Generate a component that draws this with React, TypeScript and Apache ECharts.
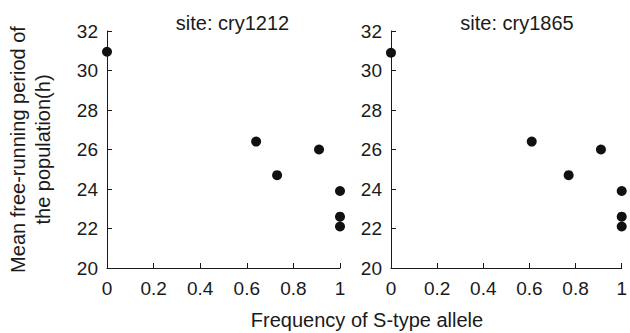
import React, { useEffect, useRef } from "react";
import * as echarts from "echarts";

const panelTitles = ["site: cry1212", "site: cry1865"];
const freqA = [0, 0.64, 0.73, 0.91, 1, 1, 1];
const periodA = [30.95, 26.4, 24.7, 26.0, 23.9, 22.6, 22.1];
const freqB = [0, 0.61, 0.77, 0.91, 1, 1, 1];
const periodB = [30.9, 26.4, 24.7, 26.0, 23.9, 22.6, 22.1];
const xName = "Frequency of S-type allele";
const yName = "Mean free-running period of\nthe population(h)";

const FONT = "'Liberation Sans', Arial, sans-serif";
const INK = "#1a1a1a";

export default function App() {
  const ref = useRef<HTMLDivElement>(null);
  useEffect(() => {
    if (!ref.current) return;
    const chart = echarts.init(ref.current, undefined, { renderer: "svg" });
    const grids = [
      { left: 107, top: 31, width: 233, height: 237 },
      { left: 391, top: 31, width: 234, height: 237 },
    ];
    const mkX = (i: number) => ({
      type: "value",
      gridIndex: i,
      min: 0,
      max: 1,
      interval: 0.2,
      axisLine: { show: true, lineStyle: { color: INK, width: 1 } },
      axisTick: { show: true, inside: true, length: 5, lineStyle: { color: INK } },
      axisLabel: { color: INK, fontSize: 19, fontFamily: FONT, margin: 11 },
      splitLine: { show: false },
    });
    const mkY = (i: number) => ({
      type: "value",
      gridIndex: i,
      min: 20,
      max: 32,
      interval: 2,
      name: i === 0 ? yName : "",
      nameLocation: "middle",
      nameGap: 52,
      nameTextStyle: { color: INK, fontSize: 20, fontFamily: FONT, lineHeight: 25 },
      axisLine: { show: true, lineStyle: { color: INK, width: 1 } },
      axisTick: { show: true, inside: true, length: 5, lineStyle: { color: INK } },
      axisLabel: { color: INK, fontSize: 19, fontFamily: FONT, margin: 9 },
      splitLine: { show: false },
    });
    const mkSeries = (i: number, xs: number[], ys: number[]) => ({
      type: "scatter",
      xAxisIndex: i,
      yAxisIndex: i,
      symbol: "circle",
      symbolSize: 10,
      clip: false,
      itemStyle: { color: "#111111", opacity: 1 },
      data: xs.map((x, k) => [x, ys[k]]),
    });
    chart.setOption({
      animation: false,
      backgroundColor: "#ffffff",
      title: panelTitles.map((t, i) => ({
        text: t,
        left: grids[i].left + grids[i].width / 2 + 4,
        top: 8,
        textAlign: "center",
        textStyle: { color: INK, fontSize: 20, fontWeight: "normal", fontFamily: FONT },
      })),
      grid: grids,
      xAxis: [mkX(0), mkX(1)],
      yAxis: [mkY(0), mkY(1)],
      series: [mkSeries(0, freqA, periodA), mkSeries(1, freqB, periodB)],
      graphic: [
        {
          type: "text",
          x: 367,
          y: 310,
          style: { text: xName, fill: INK, fontSize: 20, fontFamily: FONT, align: "center", verticalAlign: "top" },
        },
      ],
    });
    return () => chart.dispose();
  }, []);
  return (
    <div
      ref={ref}
      style={{ position: "fixed", left: 0, top: 0, width: 630, height: 333, background: "#fff" }}
    />
  );
}
